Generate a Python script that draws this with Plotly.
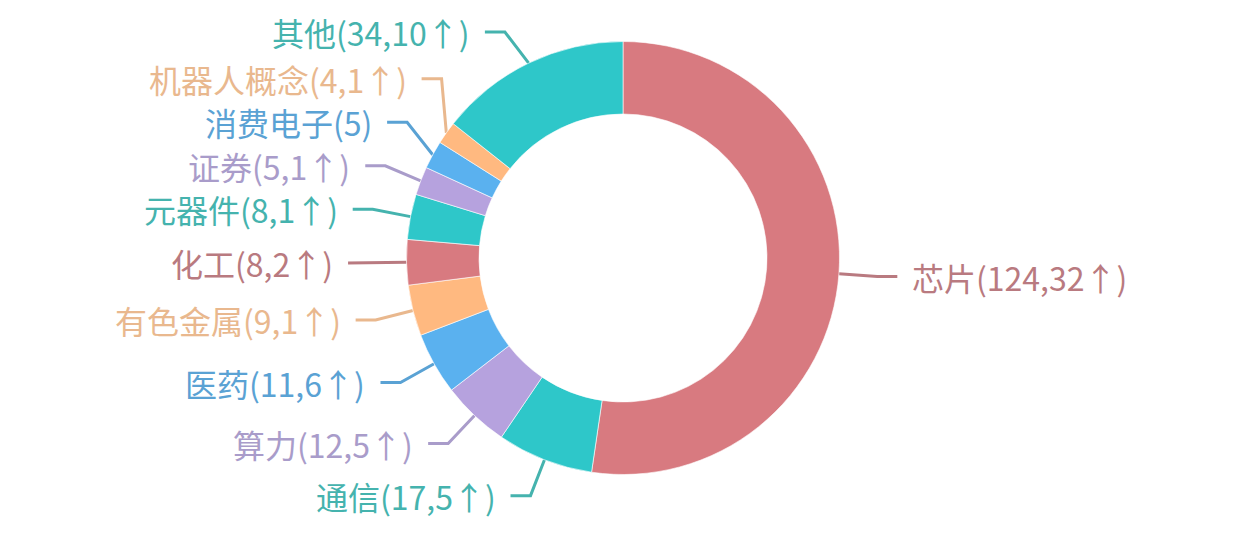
import math
import plotly.graph_objects as go

# sector counts and increases
names = ["芯片", "通信", "算力", "医药", "有色金属", "化工", "元器件", "证券", "消费电子", "机器人概念", "其他"]
counts = [124, 17, 12, 11, 9, 8, 8, 5, 5, 4, 34]
ups = [32, 5, 5, 6, 1, 2, 1, 1, None, 1, 10]

slice_colors = ["#d87a80", "#2ec7c9", "#b6a2de", "#5ab1ef", "#ffb980",
                "#d87a80", "#2ec7c9", "#b6a2de", "#5ab1ef", "#ffb980", "#2ec7c9"]
text_colors = {"#d87a80": "#b97a80", "#2ec7c9": "#45b3ae", "#b6a2de": "#a99cca",
               "#5ab1ef": "#5aa2d4", "#ffb980": "#e9b88e"}

# page body has an 8px margin, so the figure is a bit smaller and shifted
off = 8
W, H = 1259 - off, 535 - off
cx, cy, r = 623 - off, 258 - off, 216.5
len1, len2, gap = 38.5, 20, 13
min_gap = 43.5
top_y = 24
font = "Noto Sans CJK SC"

labels = [f"{n}({c},{u}↑)" if u is not None else f"{n}({c})" for n, c, u in zip(names, counts, ups)]

fig = go.Figure()
fig.add_trace(go.Pie(
    labels=names, values=counts, sort=False, direction="clockwise", rotation=0,
    hole=144 / r, textinfo="none", hoverinfo="label+value",
    marker=dict(colors=slice_colors, line=dict(color="rgba(255,255,255,0.6)", width=1)),
    domain=dict(x=[(cx - r) / W, (cx + r) / W], y=[(H - cy - r) / H, (H - cy + r) / H]),
    showlegend=False,
))

# label layout (mid angle of each slice, clockwise from top)
total = sum(counts)
R = r + len1
items = []
acc = 0
for i, c in enumerate(counts):
    th = math.radians((acc + c / 2) / total * 360)
    acc += c
    items.append(dict(i=i, th=th, y=cy - R * math.cos(th), left=math.sin(th) < 0))

# push crowded labels on the left side apart
left = sorted([it for it in items if it["left"]], key=lambda d: d["y"])
upper = [it for it in left if it["y"] < cy]
lower = [it for it in left if it["y"] >= cy]
for k in range(len(upper) - 2, -1, -1):
    upper[k]["y"] = min(upper[k]["y"], upper[k + 1]["y"] - min_gap)
prev = top_y - min_gap
for it in upper + lower:
    it["y"] = max(it["y"], prev + min_gap)
    prev = it["y"]

for it in items:
    i, th, y = it["i"], it["th"], it["y"]
    col = text_colors[slice_colors[i]]
    x0, y0 = cx + r * math.sin(th), cy - r * math.cos(th)
    dx = math.sqrt(max(R * R - (y - cy) ** 2, 0))
    side = -1 if it["left"] else 1
    ex = cx + side * dx
    lx = ex + side * len2
    fig.add_trace(go.Scatter(x=[x0, ex, lx], y=[y0, y, y], mode="lines",
                             line=dict(color=col, width=3), hoverinfo="skip", showlegend=False))
    fig.add_annotation(x=lx + side * gap, y=y, xref="x", yref="y", text=labels[i],
                       showarrow=False, xanchor="right" if it["left"] else "left", yanchor="middle",
                       font=dict(family=font, size=32, color=col))

fig.update_layout(
    width=W, height=H, margin=dict(l=0, r=0, t=0, b=0),
    paper_bgcolor="white", plot_bgcolor="rgba(0,0,0,0)",
    xaxis=dict(range=[0, W], visible=False, domain=[0, 1], fixedrange=True),
    yaxis=dict(range=[H, 0], visible=False, domain=[0, 1], fixedrange=True),
)

fig.write_html("out.html")
